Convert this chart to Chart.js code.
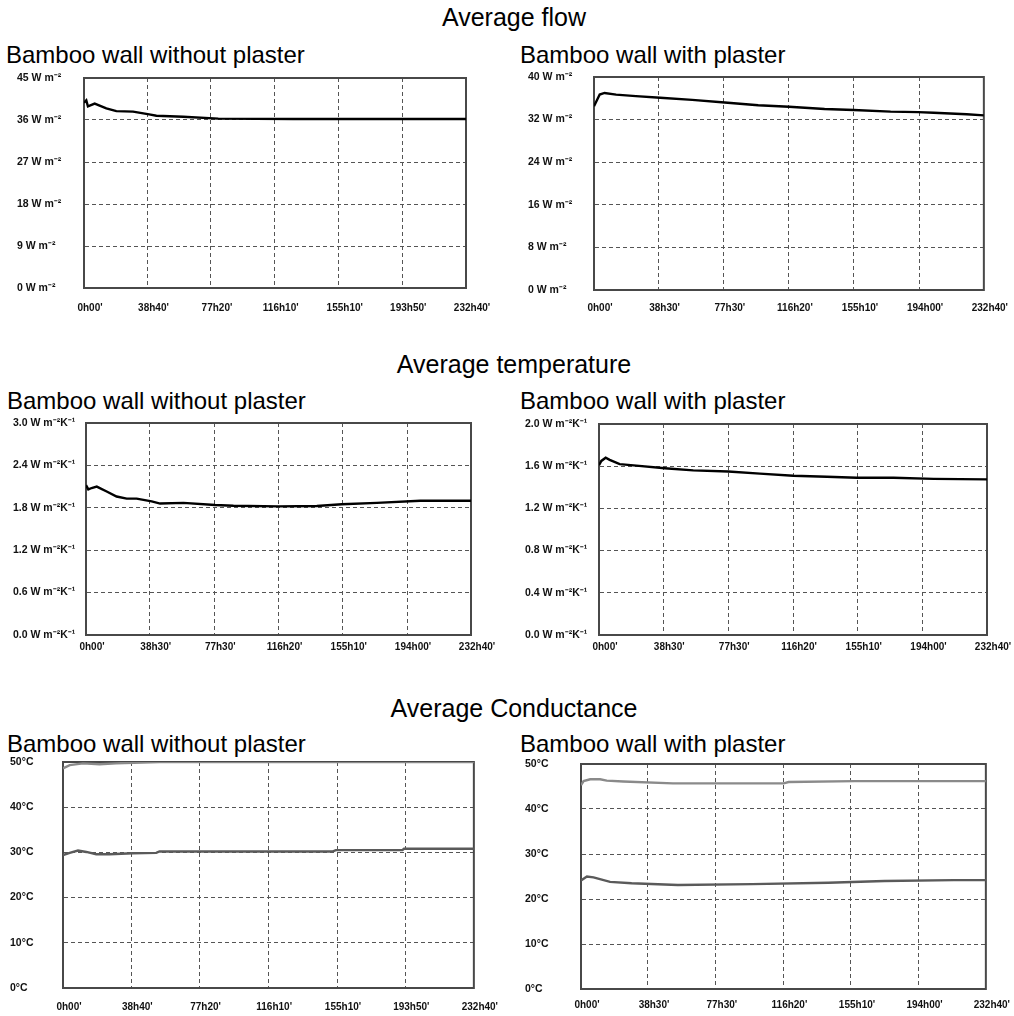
<!DOCTYPE html>
<html>
<head>
<meta charset="utf-8">
<script src="https://cdn.jsdelivr.net/npm/chart.js@4.4.1/dist/chart.umd.min.js"></script>
<style>
  body { margin: 0; background: #fff; }
  #page { position: relative; width: 1014px; height: 1016px; font-family: "Liberation Sans", Arial, sans-serif; color: #000; }
  .title { position: absolute; font-size: 25px; line-height: 25px; white-space: nowrap; transform: translateX(-50%); }
  .sub { position: absolute; font-size: 24px; line-height: 24px; white-space: nowrap; }
  canvas { position: absolute; }
</style>
</head>
<body>
<div id="page">
  <div class="title" style="left:514px;top:5px">Average flow</div>
  <div class="sub" style="left:6px;top:43px">Bamboo wall without plaster</div>
  <div class="sub" style="left:520px;top:43px">Bamboo wall with plaster</div>

  <div class="title" style="left:514px;top:352px">Average temperature</div>
  <div class="sub" style="left:7px;top:389px">Bamboo wall without plaster</div>
  <div class="sub" style="left:520px;top:389px">Bamboo wall with plaster</div>

  <div class="title" style="left:514px;top:696px">Average Conductance</div>
  <div class="sub" style="left:7px;top:732px">Bamboo wall without plaster</div>
  <div class="sub" style="left:520px;top:732px">Bamboo wall with plaster</div>

  <canvas id="flowNo" width="488" height="250" style="left:17px;top:68px"></canvas>
  <canvas id="flowWith" width="486" height="253" style="left:528px;top:67px"></canvas>
  <canvas id="tempNo" width="492" height="247" style="left:13px;top:413px"></canvas>
  <canvas id="tempWith" width="489" height="246" style="left:525px;top:414px"></canvas>
  <canvas id="condNo" width="495" height="262" style="left:10px;top:752px"></canvas>
  <canvas id="condWith" width="489" height="260" style="left:525px;top:754px"></canvas>
</div>
<script>
// time axis labels (hours h minutes ')
const timesA = ["0h00'", "38h40'", "77h20'", "116h10'", "155h10'", "193h50'", "232h40'"];
const timesB = ["0h00'", "38h30'", "77h30'", "116h20'", "155h10'", "194h00'", "232h40'"];

// y tick values
const flowNoTicks = [0, 9, 18, 27, 36, 45];
const flowWithTicks = [0, 8, 16, 24, 32, 40];
const tempNoTicks = [0, 0.6, 1.2, 1.8, 2.4, 3.0];
const tempWithTicks = [0, 0.4, 0.8, 1.2, 1.6, 2.0];
const condTicks = [0, 10, 20, 30, 40, 50];

// flow, wall without plaster (hours / W m-2)
const flowNoHours = [0, 1.4, 2.4, 6.5, 13.6, 19.7, 29.9, 39.7, 44.1, 60.4, 81.8, 127.5, 232.7];
const flowNoVals = [39.7, 40.2, 38.9, 39.5, 38.5, 37.9, 37.8, 37.2, 36.9, 36.7, 36.3, 36.2, 36.2];

// flow, wall with plaster
const flowWithHours = [0, 3.4, 6.3, 13.2, 25, 39.5, 58.6, 78, 98, 116.4, 137.6, 155, 177, 193.4, 202.7, 222.4, 232.7];
const flowWithVals = [34.5, 36.7, 37.0, 36.7, 36.4, 36.1, 35.7, 35.2, 34.7, 34.4, 34.0, 33.8, 33.5, 33.4, 33.3, 33.0, 32.8];

// second row, wall without plaster (W m-2 K-1)
const tempNoHours = [0, 1.4, 3.4, 6.5, 12.5, 18.5, 24.6, 30.6, 39.7, 44.8, 58.9, 78, 89.1, 116.3, 139.5, 154.6, 175.8, 202, 232.7];
const tempNoVals = [2.12, 2.06, 2.08, 2.10, 2.03, 1.96, 1.93, 1.93, 1.89, 1.86, 1.87, 1.84, 1.83, 1.82, 1.825, 1.85, 1.87, 1.90, 1.90];

// second row, wall with plaster
const tempWithHours = [0, 1.4, 4, 6.4, 12.4, 22.4, 39.4, 56.5, 77.5, 96.5, 116.5, 136.6, 154.6, 176.6, 200.6, 232.7];
const tempWithVals = [1.61, 1.65, 1.68, 1.66, 1.62, 1.605, 1.58, 1.56, 1.55, 1.53, 1.51, 1.50, 1.49, 1.49, 1.48, 1.475];

// third row, wall without plaster (°C), hot and cold side
const condNoHotHours = [0, 3.8, 11.3, 20.7, 30.1, 54.6, 232.7];
const condNoHotVals = [48.6, 49.3, 49.7, 49.5, 49.7, 50, 50];
const condNoColdHours = [0, 3.8, 8.5, 13.2, 18.8, 26.4, 39.6, 52.8, 54.6, 152.6, 154.5, 192.2, 193.1, 232.7];
const condNoColdVals = [29.4, 29.9, 30.4, 30.1, 29.6, 29.6, 29.8, 29.9, 30.2, 30.2, 30.5, 30.5, 30.8, 30.8];

// third row, wall with plaster
const condWithHotHours = [0, 1.5, 5.3, 11, 14.8, 24.3, 52.8, 116.5, 119.3, 157.3, 232.7];
const condWithHotVals = [45.3, 46.2, 46.6, 46.6, 46.3, 46.1, 45.7, 45.7, 46.0, 46.2, 46.2];
const condWithColdHours = [0, 3.4, 7.2, 16.7, 29.1, 55.7, 98.4, 142.1, 174.4, 214.3, 232.7];
const condWithColdVals = [24.1, 25.0, 24.8, 23.8, 23.5, 23.1, 23.3, 23.6, 24.0, 24.2, 24.2];

const GRID = '#555';
const FONT_X = { family: '"Liberation Sans", Arial, sans-serif', size: 10, weight: 'bold' };
const FONT_Y = { family: '"Liberation Sans", Arial, sans-serif', size: 10.5, weight: 'bold' };

function hours(label) {
  const m = label.match(/(\d+)h(\d+)/);
  return +m[1] + +m[2] / 60;
}

function pairs(xs, ys) {
  return xs.map((x, i) => ({ x: x, y: ys[i] }));
}

// solid box round the plot area
const framePlugin = {
  id: 'frame',
  beforeDatasetsDraw(chart) {
    const { ctx, chartArea: a } = chart;
    ctx.save();
    ctx.strokeStyle = '#484848';
    ctx.lineWidth = 2;
    ctx.strokeRect(a.left, a.top, a.right - a.left, a.bottom - a.top);
    ctx.restore();
  }
};

function makeChart(id, o) {
  const xTicks = o.times.map(hours);
  new Chart(document.getElementById(id), {
    type: 'line',
    data: {
      datasets: o.series.map(s => ({
        data: s.data,
        borderColor: s.color,
        borderWidth: 2.4,
        pointRadius: 0,
        tension: 0,
        fill: false
      }))
    },
    options: {
      responsive: false,
      animation: false,
      layout: { padding: { top: 10, right: o.right, bottom: 0, left: 0 } },
      plugins: { legend: { display: false }, tooltip: { enabled: false } },
      scales: {
        x: {
          type: 'linear',
          min: 0,
          max: xTicks[xTicks.length - 1],
          afterBuildTicks: s => { s.ticks = xTicks.map(v => ({ value: v })); },
          afterFit: s => { s.height = o.xh; },
          grid: { color: GRID, lineWidth: 1, drawTicks: false },
          border: { color: '#484848', width: 2, dash: [4, 3] },
          ticks: {
            autoSkip: false,
            maxRotation: 0,
            padding: o.xpad,
            labelOffset: 6,
            color: '#111',
            font: FONT_X,
            callback: (v, i) => o.times[i]
          }
        },
        y: {
          min: 0,
          max: o.yTicks[o.yTicks.length - 1],
          afterBuildTicks: s => { s.ticks = o.yTicks.map(v => ({ value: v })); },
          afterFit: s => { s.width = o.yw; },
          grid: { color: GRID, lineWidth: 1, drawTicks: false },
          border: { color: '#484848', width: 2, dash: [4, 3] },
          ticks: {
            crossAlign: 'far',
            color: '#111',
            font: FONT_Y,
            callback: o.fmt
          }
        }
      }
    },
    plugins: [framePlugin]
  });
}

const fmtFlow = v => v + ' W m\u207B\u00B2';
const fmtTemp = v => v.toFixed(1) + ' W m\u207B\u00B2K\u207B\u00B9';
const fmtCond = v => v + '\u00B0C';

makeChart('flowNo', {
  times: timesA, yTicks: flowNoTicks, fmt: fmtFlow,
  yw: 67, xh: 30, xpad: 14, right: 39,
  series: [{ data: pairs(flowNoHours, flowNoVals), color: '#000' }]
});

makeChart('flowWith', {
  times: timesB, yTicks: flowWithTicks, fmt: fmtFlow,
  yw: 66, xh: 30, xpad: 12, right: 27,
  series: [{ data: pairs(flowWithHours, flowWithVals), color: '#000' }]
});

makeChart('tempNo', {
  times: timesB, yTicks: tempNoTicks, fmt: fmtTemp,
  yw: 73, xh: 25, xpad: 6, right: 34,
  series: [{ data: pairs(tempNoHours, tempNoVals), color: '#000' }]
});

makeChart('tempWith', {
  times: timesB, yTicks: tempWithTicks, fmt: fmtTemp,
  yw: 74, xh: 25, xpad: 6, right: 27,
  series: [{ data: pairs(tempWithHours, tempWithVals), color: '#000' }]
});

makeChart('condNo', {
  times: timesA, yTicks: condTicks, fmt: fmtCond,
  yw: 53, xh: 26, xpad: 13, right: 30,
  series: [
    { data: pairs(condNoHotHours, condNoHotVals), color: '#8a8a8a' },
    { data: pairs(condNoColdHours, condNoColdVals), color: '#5a5a5a' }
  ]
});

makeChart('condWith', {
  times: timesB, yTicks: condTicks, fmt: fmtCond,
  yw: 56, xh: 25, xpad: 10, right: 25,
  series: [
    { data: pairs(condWithHotHours, condWithHotVals), color: '#8a8a8a' },
    { data: pairs(condWithColdHours, condWithColdVals), color: '#5a5a5a' }
  ]
});
</script>
</body>
</html>
